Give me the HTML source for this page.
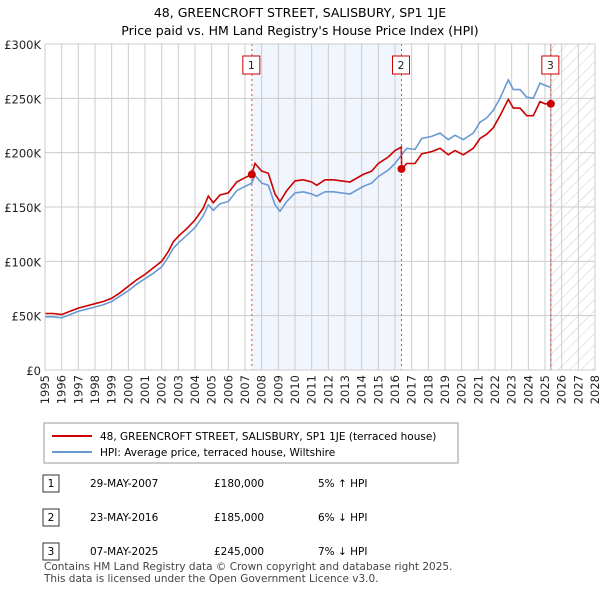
<!DOCTYPE html>
<html><head><meta charset="utf-8"><style>
body{margin:0;background:#fff;font-family:"Liberation Sans",sans-serif;color:#222}
svg text{font-family:"DejaVu Sans","Liberation Sans",sans-serif}
</style></head><body>
<svg width="600" height="590">
<defs><pattern id="hatch" width="8" height="8" patternUnits="userSpaceOnUse" patternTransform="rotate(45)"><line x1="0" y1="0" x2="0" y2="8" stroke="#ccc" stroke-width="1"/></pattern></defs>
<text x="300" y="17" text-anchor="middle" font-size="12.5">48, GREENCROFT STREET, SALISBURY, SP1 1JE</text>
<text x="300" y="35" text-anchor="middle" font-size="12.5">Price paid vs. HM Land Registry's House Price Index (HPI)</text>
<g id="plot"></g>
<g>
<rect x="44" y="423" width="414" height="40" fill="#fff" stroke="#999"/>
<line x1="52" y1="436" x2="92" y2="436" stroke="#cc0000" stroke-width="2"/>
<text x="100" y="440" font-size="10.5">48, GREENCROFT STREET, SALISBURY, SP1 1JE (terraced house)</text>
<line x1="52" y1="452" x2="92" y2="452" stroke="#6a9ad4" stroke-width="2"/>
<text x="100" y="456" font-size="10.5">HPI: Average price, terraced house, Wiltshire</text>
</g>
<g font-size="10.5">
<rect x="43" y="475" width="16" height="17" fill="#fff" stroke="#333"/><text x="51" y="487" text-anchor="middle">1</text>
<text x="90" y="487">29-MAY-2007</text><text x="214" y="487">£180,000</text><text x="318" y="487">5% ↑ HPI</text>
<rect x="43" y="509" width="16" height="17" fill="#fff" stroke="#333"/><text x="51" y="521" text-anchor="middle">2</text>
<text x="90" y="521">23-MAY-2016</text><text x="214" y="521">£185,000</text><text x="318" y="521">6% ↓ HPI</text>
<rect x="43" y="543" width="16" height="17" fill="#fff" stroke="#333"/><text x="51" y="555" text-anchor="middle">3</text>
<text x="90" y="555">07-MAY-2025</text><text x="214" y="555">£245,000</text><text x="318" y="555">7% ↓ HPI</text>
</g>
<text x="44" y="570" font-size="10.5" fill="#444">Contains HM Land Registry data © Crown copyright and database right 2025.</text>
<text x="44" y="582" font-size="10.5" fill="#444">This data is licensed under the Open Government Licence v3.0.</text>
</svg>
<script>
const hpiDates=[1995.0,1995.5,1996.0,1996.5,1997.0,1997.5,1998.0,1998.5,1999.0,1999.5,2000.0,2000.5,2001.0,2001.5,2002.0,2002.4,2002.7,2003.0,2003.5,2004.0,2004.5,2004.8,2005.1,2005.5,2006.0,2006.5,2007.0,2007.4,2007.6,2008.0,2008.4,2008.8,2009.1,2009.5,2010.0,2010.5,2011.0,2011.3,2011.8,2012.3,2012.8,2013.3,2014.1,2014.6,2015.0,2015.6,2016.0,2016.4,2016.7,2017.2,2017.6,2018.2,2018.7,2019.2,2019.6,2020.1,2020.7,2021.1,2021.5,2021.9,2022.3,2022.8,2023.1,2023.5,2023.9,2024.3,2024.7,2025.0,2025.35];
const hpiValues=[49,49,48,51,54,56,58,60,63,68,73,79,84,89,95,104,112,117,124,131,142,152,147,153,155,165,169,172,179,172,170,152,146,155,163,164,162,160,164,164,163,162,169,172,178,184,190,198,204,203,213,215,218,212,216,212,218,228,232,239,250,267,258,258,251,250,264,262,260];
const priceDates=[1995.0,1995.5,1996.0,1996.5,1997.0,1997.5,1998.0,1998.5,1999.0,1999.5,2000.0,2000.5,2001.0,2001.5,2002.0,2002.4,2002.7,2003.0,2003.5,2004.0,2004.5,2004.8,2005.1,2005.5,2006.0,2006.5,2007.0,2007.4,2007.6,2008.0,2008.4,2008.8,2009.1,2009.5,2010.0,2010.5,2011.0,2011.3,2011.8,2012.3,2012.8,2013.3,2014.1,2014.6,2015.0,2015.6,2016.0,2016.38,2016.4,2016.7,2017.2,2017.6,2018.2,2018.7,2019.2,2019.6,2020.1,2020.7,2021.1,2021.5,2021.9,2022.3,2022.8,2023.1,2023.5,2023.9,2024.3,2024.7,2025.0,2025.35];
const priceValues=[52,52,51,54,57,59,61,63,66,71,77,83,88,94,100,109,118,123,130,138,149,160,154,161,163,173,177,180,190,183,181,162,155,165,174,175,173,170,175,175,174,173,180,183,190,196,202,205,185,190,190,199,201,204,198,202,198,204,213,217,223,234,249,241,241,234,234,247,245,245];
const saleLabels=["1","2","3"];
const saleDates=[2007.41,2016.39,2025.35];
const salePrices=[180,185,245];
const yTicks=[0,50,100,150,200,250,300];
const yTickLabels=["£0","£50K","£100K","£150K","£200K","£250K","£300K"];
const xYears=[1995,1996,1997,1998,1999,2000,2001,2002,2003,2004,2005,2006,2007,2008,2009,2010,2011,2012,2013,2014,2015,2016,2017,2018,2019,2020,2021,2022,2023,2024,2025,2026,2027,2028];

const L=45,R=595,T=44,B=370;
const xs=y=>L+(y-1995)/(2028-1995)*(R-L);
const ys=v=>B-v/300*(B-T);
const NS="http://www.w3.org/2000/svg";
const g=document.getElementById('plot');
function mk(t,a,p){const e=document.createElementNS(NS,t);for(const k in a)e.setAttribute(k,a[k]);(p||g).appendChild(e);return e;}
let sh=mk('rect',{x:xs(saleDates[0]),y:T,width:xs(saleDates[1])-xs(saleDates[0]),height:B-T,fill:'#eef3fc',opacity:0.8});


let ht=mk('rect',{x:xs(saleDates[2]),y:T,width:R-xs(saleDates[2]),height:B-T,fill:'url(#hatch)'});


xYears.forEach(yr=>{const l=mk('line',{x1:xs(yr),x2:xs(yr),y1:T,y2:B,stroke:'#ccc'});


const x=xs(yr)+4,y=B+5;
const t=mk('text',{x:x,y:y,'text-anchor':'end','font-size':'11.5',fill:'#222',transform:'rotate(-90 '+x+' '+y+')'});t.textContent=yr;

});
yTicks.forEach((v,i)=>{const l=mk('line',{x1:L,x2:R,y1:ys(v),y2:ys(v),stroke:'#ccc'});


const t=mk('text',{x:L-4,y:ys(v)+5,'text-anchor':'end','font-size':'11.5',fill:'#222'});t.textContent=yTickLabels[i];

});
mk('line',{x1:xs(saleDates[2]),x2:xs(saleDates[2]),y1:T,y2:B,stroke:'#999'});
const pth=(d,v)=>d.map((x,i)=>(i?'L':'M')+xs(x).toFixed(1)+','+ys(v[i]).toFixed(1)).join('');
let hl=mk('path',{d:pth(hpiDates,hpiValues),fill:'none',stroke:'#6a9ad4','stroke-width':1.6});


let pl=mk('path',{d:pth(priceDates,priceValues),fill:'none',stroke:'#cc0000','stroke-width':1.6});


saleDates.forEach((d,i)=>{const x=xs(d);
const dl=mk('line',{x1:x,x2:x,y1:T,y2:B,stroke:'#ee4444','stroke-dasharray':'2,3'});


const c=mk('circle',{cx:x,cy:ys(salePrices[i]),r:4,fill:'#cc0000'});


mk('rect',{x:x-9,y:56,width:17,height:18,fill:'#fff',stroke:'#cc0000'});
const t=mk('text',{x:x-0.5,y:69,'text-anchor':'middle','font-size':'11',fill:'#222'});t.textContent=saleLabels[i];

});
mk('rect',{x:L,y:T,width:R-L,height:B-T,fill:'none',stroke:'#ccc'});
</script>
</body></html>
